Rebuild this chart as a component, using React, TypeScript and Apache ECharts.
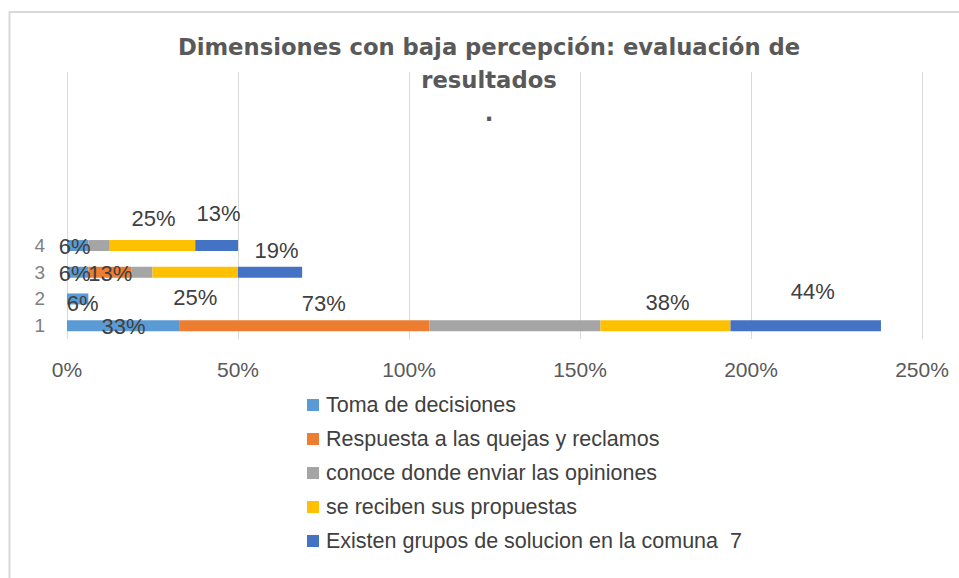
import React, { useEffect, useRef } from "react";
import * as echarts from "echarts";

const categories = ["1", "2", "3", "4", "", "", "", "", "", ""];
const seriesNames = [
  "Toma de decisiones",
  "Respuesta a las quejas y reclamos",
  "conoce donde enviar las opiniones",
  "se reciben sus propuestas",
  "Existen grupos de solucion en la comuna  7",
];
const tomaDecisiones = [33, 6.25, 6.25, 6.25];
const respuestaQuejas = [73, 0, 12.5, 0];
const conoceDonde = [50, 0, 6.25, 6.25];
const seReciben = [38, 0, 25, 25];
const existenGrupos = [44, 0, 18.75, 12.5];
const xTicks = [0, 50, 100, 150, 200, 250];

const seriesValues = [tomaDecisiones, respuestaQuejas, conoceDonde, seReciben, existenGrupos];
const colors = ["#5B9BD5", "#ED7D31", "#A5A5A5", "#FFC000", "#4472C4"];

// label offsets (px) per series per category; null = label hidden
const labelOffsets: (number[] | null)[][] = [
  [[0, 1], [5, 4.5], [-3, 1], [-3, 1]],
  [[19, -22], null, [0.5, 1], null],
  [null, null, null, null],
  [[2, -23.5], null, [0, 25], [1, -27.5]],
  [[7, -34], null, [6.5, -21.5], [2, -32.5]],
];

const titleText = "Dimensiones con baja percepción: evaluación de\nresultados\n.";

export default function App() {
  const ref = useRef<HTMLDivElement>(null);
  useEffect(() => {
    if (!ref.current) return;
    const chart = echarts.init(ref.current, null, { renderer: "svg" });
    const series = seriesValues.map((vals, si) => ({
      name: seriesNames[si],
      type: "bar",
      stack: "total",
      barWidth: 11,
      itemStyle: { color: colors[si] },
      label: {
        show: true,
        position: "inside",
        fontSize: 22,
        fontFamily: "Liberation Sans",
        color: "#404040",
        formatter: (p: any) => Math.round(p.value) + "%",
      },
      data: vals.map((v, ci) => {
        const off = labelOffsets[si][ci];
        return off
          ? { value: v, label: { show: true, offset: off } }
          : { value: v, label: { show: false } };
      }),
    }));
    chart.setOption({
      animation: false,
      backgroundColor: "#ffffff",
      graphic: [
        {
          type: "rect",
          z: -10,
          shape: { x: 9.5, y: 12, width: 1000, height: 1000 },
          style: { fill: "none", stroke: "#d9d9d9", lineWidth: 2 },
        },
        {
          type: "text",
          x: 489,
          y: 30,
          style: {
            text: titleText,
            fill: "#595959",
            fontSize: 22.7,
            fontWeight: "bold",
            fontFamily: "DejaVu Sans",
            align: "center",
            verticalAlign: "top",
            lineHeight: 33,
          },
        },
      ],
      grid: { left: 67, right: 37, top: 72, bottom: 239, containLabel: false },
      legend: {
        orient: "vertical",
        left: 307,
        top: 394,
        padding: 0,
        icon: "rect",
        itemWidth: 12,
        itemHeight: 12,
        itemGap: 12,
        textStyle: {
          fontSize: 21.5,
          color: "#404040",
          fontFamily: "Liberation Sans",
          lineHeight: 22,
          padding: [0, 0, 0, 2],
        },
        data: seriesNames,
      },
      xAxis: {
        type: "value",
        min: xTicks[0],
        max: xTicks[xTicks.length - 1],
        interval: 50,
        axisLine: { show: false },
        axisTick: { show: false },
        splitLine: { show: true, lineStyle: { color: "#d9d9d9", width: 1 } },
        axisLabel: {
          formatter: "{value}%",
          fontSize: 21,
          color: "#595959",
          fontFamily: "Liberation Sans",
          margin: 20,
        },
      },
      yAxis: {
        type: "category",
        data: categories,
        axisLine: { show: false },
        axisTick: { show: false },
        axisLabel: {
          interval: 0,
          fontSize: 19,
          color: "#7f7f7f",
          fontFamily: "Liberation Sans",
          margin: 22,
        },
      },
      series,
    });
    return () => chart.dispose();
  }, []);
  return <div ref={ref} style={{ width: 959, height: 578, position: "absolute", left: 0, top: 0 }} />;
}
